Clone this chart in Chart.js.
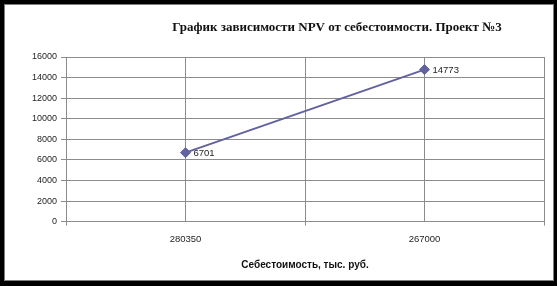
<!DOCTYPE html>
<html>
<head>
<meta charset="utf-8">
<script src="https://cdn.jsdelivr.net/npm/chart.js@4.4.0/dist/chart.umd.min.js"></script>
<style>
    html, body { margin: 0; padding: 0; background: #000; width: 557px; height: 286px; overflow: hidden; }
    #frame { position: absolute; left: 4px; top: 4px; width: 548px; height: 275px; border: 1px solid #808080; background: #fff; }
    #chart { display: block; }
</style>
</head>
<body>
<div id="frame"><canvas id="chart" width="548" height="275"></canvas></div>
<script>
const categories = ['280350', '267000'];
const npvValues = [6701, 14773];
const yTicks = [0, 2000, 4000, 6000, 8000, 10000, 12000, 14000, 16000];
const chartTitle = 'График зависимости NPV от себестоимости. Проект №3';
const xAxisTitle = 'Себестоимость, тыс. руб.';

const gridColor = '#8c8c8c';
const textColor = '#1e1e1e';
const lineColor = '#62629e';

// title is not centred over the chart in the original, so draw it ourselves
const titlePlugin = {
    id: 'titleText',
    afterDraw(chart) {
        const ctx = chart.ctx;
        ctx.save();
        ctx.font = 'bold 13px "Liberation Serif"';
        ctx.fillStyle = '#111';
        ctx.textAlign = 'center';
        ctx.textBaseline = 'middle';
        ctx.fillText(chartTitle, 332, 23);
        ctx.restore();
    }
};

const valueLabels = {
    id: 'valueLabels',
    afterDatasetsDraw(chart) {
        const ctx = chart.ctx;
        const meta = chart.getDatasetMeta(0);
        ctx.save();
        ctx.font = '9.5px "Liberation Sans"';
        ctx.fillStyle = textColor;
        ctx.textBaseline = 'middle';
        meta.data.forEach((pt, i) => {
            ctx.fillText(String(npvValues[i]), pt.x + 8, pt.y + 1);
        });
        ctx.restore();
    }
};

document.addEventListener("DOMContentLoaded", () => {
    const canvas = document.getElementById('chart');

    new Chart(canvas, {
        type: 'line',
        data: {
            labels: categories,
            datasets: [{
                label: 'NPV',
                data: npvValues,
                borderColor: lineColor,
                backgroundColor: lineColor,
                borderWidth: 2,
                pointStyle: 'rectRot',
                pointRadius: 5,
                pointBorderWidth: 1,
                tension: 0
            }]
        },
        options: {
            responsive: false,
            animation: false,
            layout: {
                padding: { left: 23, right: 9, top: 52, bottom: 9 }
            },
            plugins: {
                legend: { display: false },
                title: { display: false },
                tooltip: { enabled: false }
            },
            scales: {
                x: {
                    type: 'category',
                    offset: true,
                    grid: {
                        offset: true,
                        color: gridColor,
                        tickLength: 4,
                        tickColor: gridColor
                    },
                    border: { color: gridColor },
                    ticks: {
                        color: textColor,
                        font: { family: 'Liberation Sans', size: 9.5 },
                        padding: 8,
                        maxRotation: 0
                    },
                    title: {
                        display: true,
                        text: xAxisTitle,
                        color: '#111',
                        font: { family: 'Liberation Sans', size: 10, weight: 'bold' },
                        padding: { top: 6, bottom: 0 }
                    }
                },
                x2: {
                    type: 'category',
                    position: 'top',
                    offset: true,
                    grid: {
                        offset: false,
                        color: gridColor,
                        drawTicks: false
                    },
                    border: { display: false },
                    ticks: { display: false }
                },
                y: {
                    min: 0,
                    max: 16000,
                    afterBuildTicks: (scale) => {
                        scale.ticks = yTicks.map(v => ({ value: v }));
                    },
                    grid: {
                        color: gridColor,
                        tickLength: 5,
                        tickColor: gridColor
                    },
                    border: { color: gridColor },
                    ticks: {
                        color: textColor,
                        font: { family: 'Liberation Sans', size: 9 },
                        padding: 4,
                        callback: (value) => String(value)
                    }
                }
            }
        },
        plugins: [titlePlugin, valueLabels]
    });
});
</script>
</body>
</html>
